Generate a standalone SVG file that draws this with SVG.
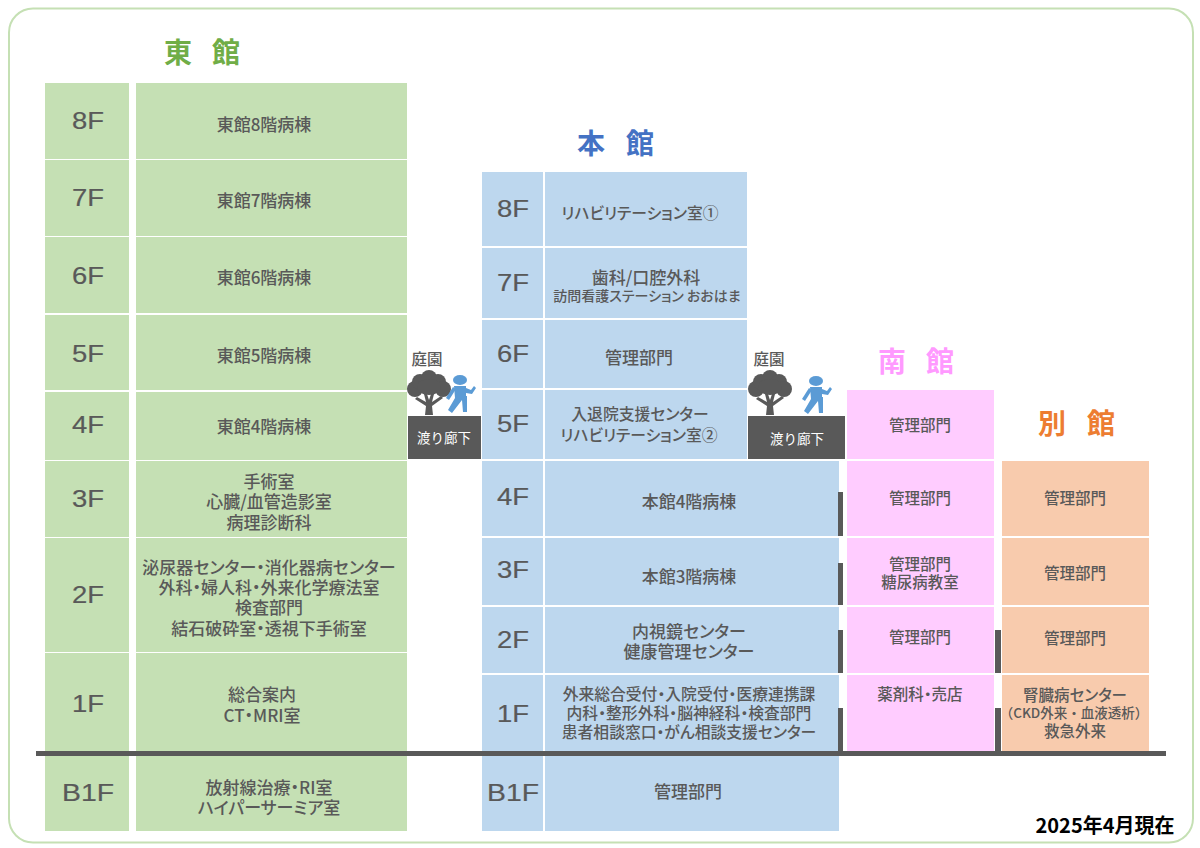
<svg xmlns="http://www.w3.org/2000/svg" width="1200" height="848" viewBox="0 0 1200 848">
<style>
text{font-family:"Noto Sans CJK JP","Noto Sans",sans-serif;text-anchor:middle;fill:#595959;font-weight:500;font-feature-settings:"palt"}
.t{font-size:17px}
.m{font-size:15.5px}
.l{font-size:15.8px}
.s{font-size:14px}
.c{font-size:13.500px;font-feature-settings:normal}
.f{font-family:"Liberation Sans",sans-serif;font-size:23px;font-weight:400;stroke:#595959;stroke-width:.2}
.h{font-size:28px;font-weight:700;text-anchor:start;font-feature-settings:normal}
.g{fill:#c5e0b4}.b{fill:#bdd7ee}.p{fill:#ffccff}.o{fill:#f8cbad}.d{fill:#595959}
.w{fill:#fff;font-size:13.500px;font-weight:400;font-feature-settings:normal}
.gt{font-size:15.500px;font-feature-settings:normal}
.date{font-size:20px;font-weight:700;fill:#000;font-feature-settings:normal}
</style>
<defs>
<g id="tree" fill="#595959"><path d="M-4 22 L-3 13 L-14 6 L-12 4 L-3 9 L-5 1 L-2 1 L0 7 L2 1 L5 1 L3 9 L12 3 L14 5 L3 13 L4 22Z"/><circle cx="-14" cy="-4" r="8"/><circle cx="-9" cy="-11" r="8"/><circle cx="0" cy="-15" r="8"/><circle cx="9" cy="-11" r="8"/><circle cx="14" cy="-4" r="8"/><ellipse cx="0" cy="-6" rx="12" ry="8"/></g>
<g id="man" fill="#5b9bd5"><ellipse cx="0" cy="-13" rx="7" ry="5"/><path d="M-6 -7 H6 V3 L7 3 L7 19 H3 L2 7 L-8 20 L-12 17 L-5 5Z"/><path d="M6 -5 L11 -3 L14 -7 L16 -5 L12 1 L6 0Z"/><path d="M-7 -6 L-4 -4 L-11 7 L-14 5Z"/></g>
</defs>
<rect x="9" y="8.500" width="1184" height="834" rx="24" fill="#fff" stroke="#c5e0b4" stroke-width="2"/>
<g id="title-east"><text class="h" x="164" y="63" style="fill:#70ad47">東</text><text class="h" x="212" y="63" style="fill:#70ad47">館</text></g>
<g id="title-main"><text class="h" x="577" y="154" style="fill:#4472c4">本</text><text class="h" x="626" y="154" style="fill:#4472c4">館</text></g>
<g id="title-south"><text class="h" x="878" y="372" style="fill:#ff99ff">南</text><text class="h" x="926" y="372" style="fill:#ff99ff">館</text></g>
<g id="title-annex"><text class="h" x="1038" y="434" style="fill:#ed7d31">別</text><text class="h" x="1087" y="434" style="fill:#ed7d31">館</text></g>

<g id="east">
<g id="e8"><rect class="g" x="45" y="83" width="84" height="76"/><rect class="g" x="136" y="83" width="271" height="76"/><text class="f" x="88" y="129" textLength="32" lengthAdjust="spacingAndGlyphs">8F</text><text class="t" x="264" y="131">東館8階病棟</text></g>
<g id="e7"><rect class="g" x="45" y="160" width="84" height="76"/><rect class="g" x="136" y="160" width="271" height="76"/><text class="f" x="88" y="206" textLength="32" lengthAdjust="spacingAndGlyphs">7F</text><text class="t" x="264" y="207">東館7階病棟</text></g>
<g id="e6"><rect class="g" x="45" y="237" width="84" height="76"/><rect class="g" x="136" y="237" width="271" height="76"/><text class="f" x="88" y="284" textLength="32" lengthAdjust="spacingAndGlyphs">6F</text><text class="t" x="264" y="284">東館6階病棟</text></g>
<g id="e5"><rect class="g" x="45" y="315" width="84" height="75"/><rect class="g" x="136" y="315" width="271" height="75"/><text class="f" x="88" y="362" textLength="32" lengthAdjust="spacingAndGlyphs">5F</text><text class="t" x="264" y="362">東館5階病棟</text></g>
<g id="e4"><rect class="g" x="45" y="392" width="84" height="68"/><rect class="g" x="136" y="392" width="271" height="68"/><text class="f" x="88" y="433" textLength="32" lengthAdjust="spacingAndGlyphs">4F</text><text class="t" x="264" y="433">東館4階病棟</text></g>
<g id="e3"><rect class="g" x="45" y="461" width="84" height="76"/><rect class="g" x="136" y="461" width="271" height="76"/><text class="f" x="88" y="507" textLength="32" lengthAdjust="spacingAndGlyphs">3F</text><text class="t" x="269" y="488">手術室</text><text class="t" x="269" y="508">心臓/血管造影室</text><text class="t" x="269" y="529">病理診断科</text></g>
<g id="e2"><rect class="g" x="45" y="538" width="84" height="114"/><rect class="g" x="136" y="538" width="271" height="114"/><text class="f" x="88" y="603" textLength="32" lengthAdjust="spacingAndGlyphs">2F</text><text class="t" x="269" y="574">泌尿器センター・消化器病センター</text><text class="t" x="269" y="594">外科・婦人科・外来化学療法室</text><text class="t" x="269" y="614">検査部門</text><text class="t" x="269" y="635">結石破砕室・透視下手術室</text></g>
<g id="e1"><rect class="g" x="45" y="653" width="84" height="99"/><rect class="g" x="136" y="653" width="271" height="99"/><text class="f" x="88" y="712" textLength="32" lengthAdjust="spacingAndGlyphs">1F</text><text class="t" x="262" y="701">総合案内</text><text class="t" x="262" y="722">CT・MRI室</text></g>
<g id="eb1"><rect class="g" x="45" y="756" width="84" height="75"/><rect class="g" x="136" y="756" width="271" height="75"/><text class="f" x="88" y="801" textLength="52" lengthAdjust="spacingAndGlyphs">B1F</text><text class="t" x="269" y="794">放射線治療・RI室</text><text class="t" x="269" y="814">ハイパーサーミア室</text></g>
</g>

<g id="main">
<g id="m8"><rect class="b" x="482" y="172" width="61" height="74"/><rect class="b" x="545" y="172" width="202" height="74"/><text class="f" x="513" y="217" textLength="32" lengthAdjust="spacingAndGlyphs">8F</text><text class="l" x="640" y="219">リハビリテーション室①</text></g>
<g id="m7"><rect class="b" x="482" y="248" width="61" height="70"/><rect class="b" x="545" y="248" width="202" height="70"/><text class="f" x="513" y="291" textLength="32" lengthAdjust="spacingAndGlyphs">7F</text><text class="t" x="646" y="284">歯科/口腔外科</text><text class="s" x="647" y="301">訪問看護ステーション おおはま</text></g>
<g id="m6"><rect class="b" x="482" y="320" width="61" height="68"/><rect class="b" x="545" y="320" width="202" height="68"/><text class="f" x="513" y="362" textLength="32" lengthAdjust="spacingAndGlyphs">6F</text><text class="t" x="639" y="364">管理部門</text></g>
<g id="m5"><rect class="b" x="482" y="390" width="61" height="69"/><rect class="b" x="545" y="390" width="202" height="69"/><text class="f" x="513" y="432" textLength="32" lengthAdjust="spacingAndGlyphs">5F</text><text class="l" x="640" y="420">入退院支援センター</text><text class="l" x="639" y="441">リハビリテーション室②</text></g>
<g id="m4"><rect class="b" x="482" y="461" width="61" height="75"/><rect class="b" x="545" y="461" width="294" height="75"/><text class="f" x="513" y="505" textLength="32" lengthAdjust="spacingAndGlyphs">4F</text><text class="t" x="689" y="508">本館4階病棟</text></g>
<g id="m3"><rect class="b" x="482" y="538" width="61" height="67"/><rect class="b" x="545" y="538" width="294" height="67"/><text class="f" x="513" y="578" textLength="32" lengthAdjust="spacingAndGlyphs">3F</text><text class="t" x="689" y="583">本館3階病棟</text></g>
<g id="m2"><rect class="b" x="482" y="607" width="61" height="66"/><rect class="b" x="545" y="607" width="294" height="66"/><text class="f" x="513" y="648" textLength="32" lengthAdjust="spacingAndGlyphs">2F</text><text class="t" x="689" y="638">内視鏡センター</text><text class="t" x="689" y="658">健康管理センター</text></g>
<g id="m1"><rect class="b" x="482" y="675" width="61" height="77"/><rect class="b" x="545" y="675" width="294" height="77"/><text class="f" x="513" y="722" textLength="32" lengthAdjust="spacingAndGlyphs">1F</text><text class="l" x="689" y="700">外来総合受付・入院受付・医療連携課</text><text class="l" x="689" y="719">内科・整形外科・脳神経科・検査部門</text><text class="l" x="689" y="738">患者相談窓口・がん相談支援センター</text></g>
<g id="mb1"><rect class="b" x="482" y="756" width="61" height="75"/><rect class="b" x="545" y="756" width="294" height="75"/><text class="f" x="513" y="801" textLength="52" lengthAdjust="spacingAndGlyphs">B1F</text><text class="t" x="688" y="798">管理部門</text></g>
</g>

<g id="south">
<g id="s5"><rect class="p" x="847" y="390" width="147" height="69"/><text class="m" x="920" y="431">管理部門</text></g>
<g id="s4"><rect class="p" x="847" y="461" width="147" height="75"/><text class="m" x="920" y="504">管理部門</text></g>
<g id="s3"><rect class="p" x="847" y="538" width="147" height="67"/><text class="m" x="920" y="570">管理部門</text><text class="m" x="920" y="588">糖尿病教室</text></g>
<g id="s2"><rect class="p" x="847" y="607" width="147" height="66"/><text class="m" x="920" y="643">管理部門</text></g>
<g id="s1"><rect class="p" x="847" y="675" width="147" height="77"/><text class="m" x="920" y="700">薬剤科・売店</text></g>
</g>

<g id="annex">
<g id="a3"><rect class="o" x="1002" y="461" width="147" height="75"/><text class="m" x="1075" y="504">管理部門</text></g>
<g id="a25"><rect class="o" x="1002" y="538" width="147" height="67"/><text class="m" x="1075" y="579">管理部門</text></g>
<g id="a2"><rect class="o" x="1002" y="607" width="147" height="66"/><text class="m" x="1075" y="644">管理部門</text></g>
<g id="a1"><rect class="o" x="1002" y="675" width="147" height="77"/><text class="m" x="1075" y="701">腎臓病センター</text><text class="c" x="1074" y="718">（CKD外来・血液透析）</text><text class="m" x="1075" y="737">救急外来</text></g>
</g>

<g id="connectors">
<rect class="d" x="408" y="416" width="73" height="43"/>
<rect class="d" x="748" y="416" width="97" height="43"/>
<rect class="d" x="838" y="492" width="5" height="44"/>
<rect class="d" x="838" y="563" width="5" height="42"/>
<rect class="d" x="838" y="630" width="5" height="43"/>
<rect class="d" x="838" y="708" width="5" height="43"/>
<rect class="d" x="995" y="630" width="6" height="43"/>
<rect class="d" x="995" y="708" width="6" height="43"/>
<rect class="d" x="36" y="751" width="1130" height="5"/>
</g>

<g id="garden1"><text class="gt" x="427" y="365">庭園</text><use href="#tree" x="429" y="393"/><use href="#man" x="460" y="393"/><text class="w" x="444" y="443">渡り廊下</text></g>
<g id="garden2"><text class="gt" x="769" y="365">庭園</text><use href="#tree" x="770" y="393"/><use href="#man" x="816" y="394"/><text class="w" x="797" y="444">渡り廊下</text></g>
<text class="date" x="1105" y="833">2025年4月現在</text>
</svg>
